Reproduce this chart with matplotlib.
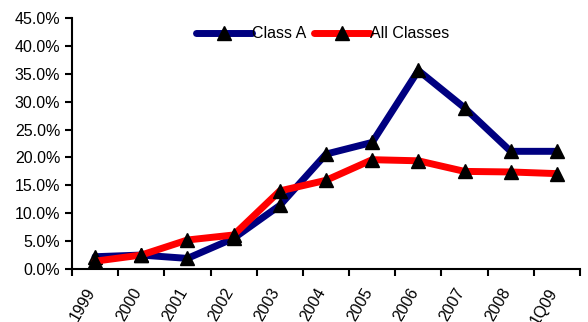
import matplotlib
matplotlib.use('Agg')
import matplotlib.pyplot as plt
import matplotlib.transforms as mtransforms
from matplotlib.ticker import PercentFormatter

plt.rcParams['font.family'] = ['Liberation Sans', 'DejaVu Sans']

years = ['1999', '2000', '2001', '2002', '2003', '2004', '2005', '2006', '2007', '2008', '1Q09']
class_a = [2.2, 2.5, 1.9, 5.5, 11.4, 20.6, 22.7, 35.6, 28.9, 21.1, 21.1]
all_classes = [1.4, 2.5, 5.2, 6.1, 14.0, 15.9, 19.6, 19.4, 17.5, 17.4, 17.1]

fig = plt.figure(figsize=(5.88, 3.22), dpi=100)
ax = fig.add_axes([0.1224, 0.1646, 0.864, 0.7794])

x = range(len(years))
ax.plot(x, class_a, color='#000080', lw=5, marker='^', ms=9.5,
        mfc='black', mec='black', label='Class A', solid_capstyle='round')
ax.plot(x, all_classes, color='#ff0000', lw=5, marker='^', ms=9.5,
        mfc='black', mec='black', label='All Classes', solid_capstyle='round')

ax.set_xlim(-0.5, len(years) - 0.5)
ax.set_ylim(0, 45)
ax.set_yticks([i * 5 for i in range(10)])
ax.yaxis.set_major_formatter(PercentFormatter(decimals=1))

# ticks between categories, labels at centres
ax.set_xticks([i - 0.5 for i in range(len(years) + 1)])
ax.set_xticklabels([])
ax.set_xticks(list(x), minor=True)
ax.set_xticklabels(years, minor=True, rotation=60, ha='right', va='top',
                   rotation_mode='anchor')
ax.tick_params(axis='x', which='minor', length=0, pad=12, labelsize=11.5)
ax.tick_params(axis='both', which='major', length=5, width=1.5, direction='out',
               labelsize=11.5)
offset = mtransforms.ScaledTranslation(-0.1, 0, fig.dpi_scale_trans)
for lab in ax.get_xticklabels(minor=True):
    lab.set_transform(lab.get_transform() + offset)

for s in ['top', 'right']:
    ax.spines[s].set_visible(False)
for s in ['left', 'bottom']:
    ax.spines[s].set_linewidth(1.5)

ax.legend(loc='center', bbox_to_anchor=(0.549, 0.895), bbox_transform=fig.transFigure,
          ncol=2, frameon=False, fontsize=11.5, handlelength=3.5, handletextpad=0.0,
          columnspacing=0.5, borderpad=0)

fig.savefig('out.png', dpi=100)
